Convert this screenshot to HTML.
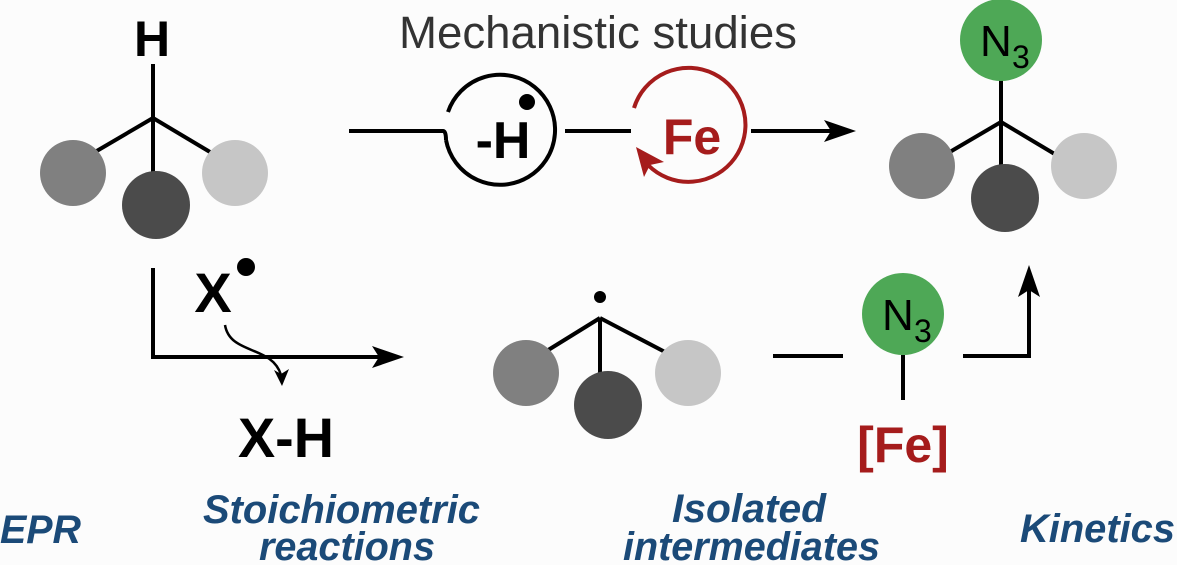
<!DOCTYPE html>
<html><head><meta charset="utf-8"><style>
html,body{margin:0;padding:0;background:#fcfcfc;}
svg{display:block}
text{font-family:"Liberation Sans",sans-serif;}
.lab{fill:#1b4a78;font-weight:bold;font-style:italic;font-size:40px}
</style></head><body>
<svg width="1177" height="565" viewBox="0 0 1177 565" xmlns="http://www.w3.org/2000/svg">
<g stroke="#000" stroke-width="4" fill="none">
<line x1="153" y1="64" x2="153" y2="180"/>
<line x1="153" y1="118" x2="95" y2="152"/>
<line x1="153" y1="118" x2="210" y2="152"/>
<line x1="1001" y1="80" x2="1001" y2="185"/>
<line x1="1001" y1="122" x2="943" y2="156"/>
<line x1="1001" y1="122" x2="1058" y2="156"/>
<line x1="600" y1="318" x2="600" y2="380"/>
<line x1="600" y1="318" x2="545" y2="352"/>
<line x1="600" y1="318" x2="665" y2="352"/>
<path d="M349,131 H443 Q446,131 446,140"/>
<path d="M446,140 A55,55 0 1 0 448,112"/>
<line x1="565" y1="131" x2="631" y2="131"/>
<line x1="751" y1="131" x2="835" y2="131"/>
<path d="M153,268 V357 H385"/>
<path d="M225,325 C230,355 272,345 281,375" stroke-width="2.5"/>
<line x1="773" y1="356" x2="843" y2="356"/>
<line x1="903" y1="355" x2="903" y2="400"/>
<path d="M963,356 H1029 V285"/>
</g>
<g fill="#000">
<path d="M856,131 L824,120 L831,131 L824,142 Z"/>
<path d="M404,357 L372,346 L379,357 L372,368 Z"/>
<path d="M1029,265 L1018,297 L1029,290 L1040,297 Z"/>
<path d="M282,386 L274,370 L281,374 L289,369 Z"/>
</g>
<path d="M634,108 A57,57 0 1 1 648,165" stroke="#a51c1c" stroke-width="4" fill="none"/>
<path d="M636,147 L664,162 L650,165 L644,177 Z" fill="#a51c1c"/>
<circle cx="73" cy="173" r="33" fill="#808080"/>
<circle cx="156" cy="205" r="34" fill="#4b4b4b"/>
<circle cx="235" cy="173" r="33" fill="#c6c6c6"/>
<circle cx="922" cy="166" r="33" fill="#808080"/>
<circle cx="1005" cy="198" r="34" fill="#4b4b4b"/>
<circle cx="1084" cy="166" r="33" fill="#c6c6c6"/>
<circle cx="526" cy="373" r="33" fill="#808080"/>
<circle cx="608" cy="405" r="34" fill="#4b4b4b"/>
<circle cx="688" cy="373" r="33" fill="#c6c6c6"/>
<circle cx="1001" cy="40" r="41" fill="#4ea856"/>
<circle cx="903" cy="314" r="41" fill="#4ea856"/>
<circle cx="600" cy="297" r="6" fill="#000"/>
<circle cx="527" cy="102" r="8" fill="#000"/>
<circle cx="246" cy="267" r="9" fill="#000"/>
<text x="152" y="56" font-size="50" font-weight="bold" text-anchor="middle">H</text>
<text x="399" y="48" font-size="45" fill="#333" textLength="398" lengthAdjust="spacingAndGlyphs">Mechanistic studies</text>
<text x="503" y="158" font-size="52" font-weight="bold" text-anchor="middle">-H</text>
<text x="692" y="154" font-size="50" font-weight="bold" fill="#a51c1c" text-anchor="middle">Fe</text>
<text x="980" y="56" font-size="44">N</text><text x="1012" y="68" font-size="32">3</text>
<text x="882" y="330" font-size="44">N</text><text x="914" y="342" font-size="32">3</text>
<text x="903" y="462" font-size="50" font-weight="bold" fill="#a51c1c" text-anchor="middle">[Fe]</text>
<text x="213" y="312" font-size="56" font-weight="bold" text-anchor="middle">X</text>
<text x="238" y="457" font-size="56" font-weight="bold" textLength="96" lengthAdjust="spacingAndGlyphs">X-H</text>
<text class="lab" x="0" y="543" textLength="81" lengthAdjust="spacingAndGlyphs">EPR</text>
<text class="lab" x="203" y="523" textLength="277" lengthAdjust="spacingAndGlyphs">Stoichiometric</text>
<text class="lab" x="259" y="560" textLength="176" lengthAdjust="spacingAndGlyphs">reactions</text>
<text class="lab" x="672" y="522" textLength="154" lengthAdjust="spacingAndGlyphs">Isolated</text>
<text class="lab" x="623" y="560" textLength="257" lengthAdjust="spacingAndGlyphs">intermediates</text>
<text class="lab" x="1020" y="542" textLength="155" lengthAdjust="spacingAndGlyphs">Kinetics</text>
</svg>
</body></html>
